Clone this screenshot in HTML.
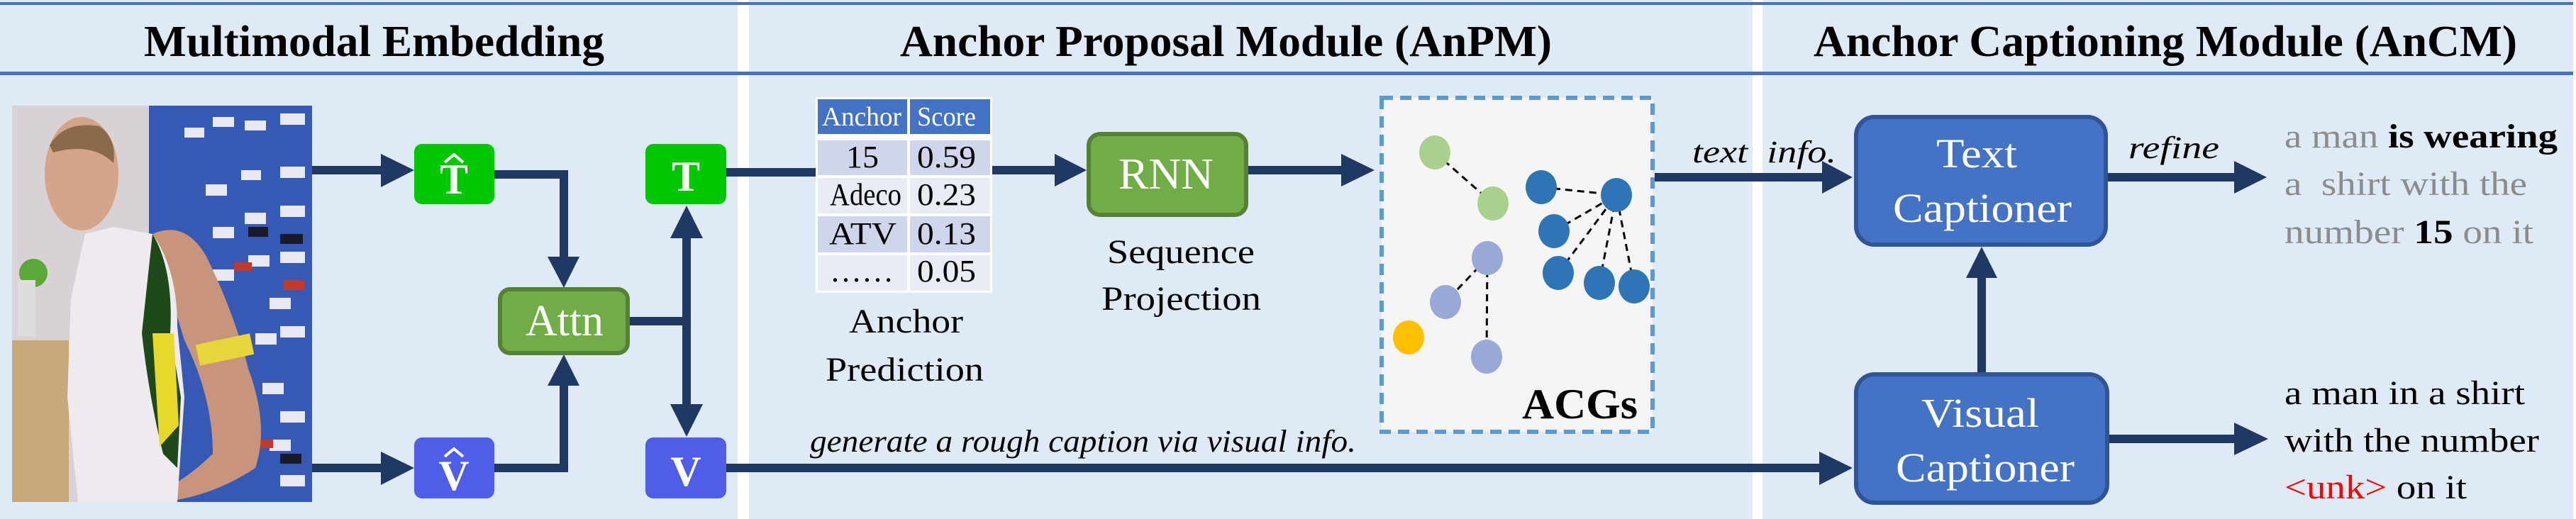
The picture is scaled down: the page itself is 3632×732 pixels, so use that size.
<!DOCTYPE html>
<html><head><meta charset="utf-8"><style>
html,body{margin:0;padding:0;background:#fff;}
svg{display:block;font-family:"Liberation Serif","Times New Roman",serif;}
svg text{font-family:"Liberation Serif","Times New Roman",serif;}
</style></head><body>
<svg width="3632" height="732" viewBox="0 0 3632 732" xmlns="http://www.w3.org/2000/svg" font-family="Liberation Serif, Times New Roman, serif">
<!-- panels -->
<rect x="0" y="0" width="1040" height="732" fill="#deebf7"/>
<rect x="1056" y="0" width="1415" height="732" fill="#deebf7"/>
<rect x="2485" y="0" width="1143" height="732" fill="#deebf7"/>
<rect x="0" y="3" width="3628" height="4" fill="#4472c4"/>
<rect x="0" y="101" width="3628" height="5" fill="#4472c4"/>

<!-- titles -->
<text x="203" y="79" font-family="Liberation Serif, serif" font-size="62" font-weight="bold" textLength="649" lengthAdjust="spacingAndGlyphs">Multimodal Embedding</text>
<text x="1269" y="79" font-family="Liberation Serif, serif" font-size="62" font-weight="bold" textLength="919" lengthAdjust="spacingAndGlyphs">Anchor Proposal Module (AnPM)</text>
<text x="2557" y="79" font-family="Liberation Serif, serif" font-size="62" font-weight="bold" textLength="992" lengthAdjust="spacingAndGlyphs">Anchor Captioning Module (AnCM)</text>

<!-- photo -->
<g>
<rect x="17" y="149" width="423" height="559" fill="#c9c4c8"/>
<rect x="17" y="149" width="200" height="559" fill="#d8d2d6"/>
<rect x="17" y="480" width="80" height="228" fill="#c8a878"/>
<rect x="210" y="149" width="230" height="559" fill="#3559b5"/>
<g fill="#e8e8f0">
<rect x="260" y="180" width="28" height="14"/><rect x="300" y="165" width="30" height="14"/><rect x="345" y="170" width="30" height="14"/><rect x="395" y="160" width="35" height="16"/>
<rect x="290" y="260" width="30" height="16"/><rect x="340" y="240" width="28" height="14"/><rect x="395" y="235" width="35" height="16"/>
<rect x="300" y="320" width="30" height="16"/><rect x="345" y="300" width="30" height="16"/><rect x="395" y="290" width="35" height="16"/>
<rect x="300" y="380" width="30" height="16"/><rect x="350" y="360" width="30" height="16"/><rect x="395" y="355" width="35" height="16"/>
<rect x="380" y="420" width="30" height="16"/><rect x="395" y="460" width="35" height="16"/><rect x="360" y="470" width="30" height="16"/>
<rect x="370" y="540" width="30" height="16"/><rect x="395" y="580" width="35" height="16"/><rect x="380" y="620" width="30" height="16"/><rect x="395" y="670" width="35" height="16"/>
</g>
<g fill="#c0392b"><rect x="330" y="370" width="25" height="12"/><rect x="400" y="395" width="30" height="14"/><rect x="360" y="620" width="25" height="12"/></g>
<g fill="#1a1a2a"><rect x="350" y="320" width="28" height="14"/><rect x="395" y="330" width="32" height="14"/><rect x="395" y="640" width="30" height="14"/></g>
<path d="M215,330 Q260,310 290,360 Q330,440 350,520 Q380,600 360,660 Q300,700 230,708 L200,708 Q260,680 300,640 Q300,560 260,480 Z" fill="#c9957a"/>
<rect x="278" y="478" width="78" height="30" fill="#e8d53a" transform="rotate(-12 317 493)"/>
<path d="M120,330 L160,320 L215,330 Q250,380 250,460 L260,560 L250,708 L110,708 L95,560 L100,420 Z" fill="#eeeaf0"/>
<path d="M215,330 Q245,380 240,470 L255,560 L250,660 L230,640 Q210,560 200,470 Z" fill="#1e4a1a"/>
<path d="M215,470 L245,470 L252,600 L225,630 Z" fill="#e8d82a"/>
<ellipse cx="115" cy="245" rx="52" ry="80" fill="#d4a588"/>
<path d="M70,205 Q90,170 140,178 Q165,195 160,230 Q130,200 75,215 Z" fill="#8a6a4a"/>
<circle cx="47" cy="385" r="20" fill="#5aa83a"/>
<rect x="25" y="395" width="25" height="80" fill="#ddd"/>
</g>

<!-- connectors -->
<g stroke="#1f3864" stroke-width="12" fill="none">
<line x1="440" y1="240" x2="540" y2="240"/>
<line x1="440" y1="660" x2="540" y2="660"/>
<polyline points="697,246 795,246 795,365"/>
<polyline points="697,660 795,660 795,542"/>
<line x1="887" y1="453" x2="968" y2="453"/>
<line x1="968" y1="334" x2="968" y2="572"/>
<line x1="1024" y1="243" x2="1153" y2="243"/>
<line x1="1396" y1="240" x2="1490" y2="240"/>
<line x1="1760" y1="240" x2="1893" y2="240"/>
<line x1="2333" y1="250" x2="2572" y2="250"/>
<line x1="1024" y1="660" x2="2568" y2="660"/>
<line x1="2794" y1="525" x2="2794" y2="390"/>
<line x1="2972" y1="250" x2="3152" y2="250"/>
<line x1="2972" y1="619" x2="3152" y2="619"/>
</g>
<g fill="#1f3864">
<polygon points="537,217 584,240 537,264"/>
<polygon points="537,637 584,660 537,684"/>
<polygon points="772,362 817,362 795,406"/>
<polygon points="772,544 817,544 795,500"/>
<polygon points="945,336 991,336 968,290"/>
<polygon points="945,570 991,570 968,616"/>
<polygon points="1487,217 1532,240 1487,263"/>
<polygon points="1891,217 1938,240 1891,263"/>
<polygon points="2569,227 2612,250 2569,273"/>
<polygon points="2565,637 2612,660 2565,684"/>
<polygon points="2772,392 2816,392 2794,348"/>
<polygon points="3150,227 3196,250 3150,273"/>
<polygon points="3150,596 3198,619 3150,642"/>
</g>

<!-- boxes left -->
<rect x="584" y="203" width="113" height="85" rx="11" fill="#00c800"/>
<rect x="584" y="617" width="113" height="86" rx="11" fill="#4e5ee8"/>
<rect x="910" y="203" width="114" height="85" rx="11" fill="#00c800"/>
<rect x="910" y="617" width="114" height="86" rx="11" fill="#4e5ee8"/>
<g fill="#fff" font-family="Liberation Serif, serif" font-size="60" text-anchor="middle">
<text x="640" y="273" font-weight="bold">T</text>
<path d="M627,229 L640,218 L653,229" stroke="#fff" stroke-width="4" fill="none"/>
<text x="640" y="691" font-weight="bold">V</text>
<path d="M627,644 L640,633 L653,644" stroke="#fff" stroke-width="4" fill="none"/>
<text x="967" y="269" font-weight="bold">T</text>
<text x="967" y="685" font-weight="bold">V</text>
</g>
<rect x="705" y="408" width="180" height="90" rx="14" fill="#70ad47" stroke="#548235" stroke-width="6"/>
<text x="741" y="473" font-family="Liberation Serif, serif" font-size="62" fill="#fff" textLength="110" lengthAdjust="spacingAndGlyphs">Attn</text>

<!-- table -->
<rect x="1150" y="137" width="249" height="276" fill="#fff"/>
<rect x="1153" y="140" width="126" height="49" fill="#4472c4"/>
<rect x="1283" y="140" width="113" height="49" fill="#4472c4"/>
<rect x="1153" y="198" width="126" height="49" fill="#cfd5ea"/><rect x="1283" y="198" width="113" height="49" fill="#cfd5ea"/>
<rect x="1153" y="251" width="126" height="50" fill="#e9ebf5"/><rect x="1283" y="251" width="113" height="50" fill="#e9ebf5"/>
<rect x="1153" y="305" width="126" height="51" fill="#cfd5ea"/><rect x="1283" y="305" width="113" height="51" fill="#cfd5ea"/>
<rect x="1153" y="360" width="126" height="50" fill="#e9ebf5"/><rect x="1283" y="360" width="113" height="50" fill="#e9ebf5"/>
<g font-family="Liberation Serif, serif" font-size="38" fill="#fff"><text x="1159" y="177" textLength="112" lengthAdjust="spacingAndGlyphs">Anchor</text><text x="1293" y="177" textLength="83" lengthAdjust="spacingAndGlyphs">Score</text></g>
<g font-family="Liberation Serif, serif" font-size="44" fill="#000">
<text x="1193" y="236" textLength="46" lengthAdjust="spacingAndGlyphs">15</text><text x="1293" y="236" textLength="83" lengthAdjust="spacingAndGlyphs">0.59</text>
<text x="1170" y="289" textLength="101" lengthAdjust="spacingAndGlyphs">Adeco</text><text x="1293" y="289" textLength="83" lengthAdjust="spacingAndGlyphs">0.23</text>
<text x="1169" y="344" textLength="95" lengthAdjust="spacingAndGlyphs">ATV</text><text x="1293" y="344" textLength="83" lengthAdjust="spacingAndGlyphs">0.13</text>
<text x="1170" y="397" textLength="90" lengthAdjust="spacingAndGlyphs">……</text><text x="1293" y="397" textLength="83" lengthAdjust="spacingAndGlyphs">0.05</text>
</g>
<g font-family="Liberation Serif, serif" font-size="48" fill="#000">
<text x="1197" y="469" textLength="161" lengthAdjust="spacingAndGlyphs">Anchor</text>
<text x="1164" y="537" textLength="223" lengthAdjust="spacingAndGlyphs">Prediction</text>
<text x="1561" y="371" textLength="208" lengthAdjust="spacingAndGlyphs">Sequence</text>
<text x="1553" y="437" textLength="225" lengthAdjust="spacingAndGlyphs">Projection</text>
</g>

<!-- RNN -->
<rect x="1535" y="189" width="222" height="114" rx="16" fill="#70ad47" stroke="#548235" stroke-width="6"/>
<text x="1577" y="266" font-family="Liberation Serif, serif" font-size="62" fill="#fff" textLength="134" lengthAdjust="spacingAndGlyphs">RNN</text>

<!-- ACG -->
<rect x="1948" y="138" width="382" height="471" fill="#f5f5f5" stroke="#5b9bd5" stroke-width="6" stroke-dasharray="16,10"/>
<g stroke="#000" stroke-width="3" stroke-dasharray="10,7">
<line x1="2023" y1="215" x2="2105" y2="287"/>
<line x1="2173" y1="264" x2="2279" y2="275"/>
<line x1="2191" y1="326" x2="2279" y2="275"/>
<line x1="2197" y1="385" x2="2279" y2="275"/>
<line x1="2255" y1="399" x2="2279" y2="275"/>
<line x1="2304" y1="404" x2="2279" y2="275"/>
<line x1="2097" y1="364" x2="2038" y2="426"/>
<line x1="2097" y1="364" x2="2096" y2="503"/>
</g>
<g>
<ellipse cx="2023" cy="215" rx="22" ry="24" fill="#a9d18e"/>
<ellipse cx="2105" cy="287" rx="22" ry="24" fill="#a9d18e"/>
<ellipse cx="2173" cy="264" rx="22" ry="24" fill="#2e75b6"/>
<ellipse cx="2279" cy="275" rx="22" ry="24" fill="#2e75b6"/>
<ellipse cx="2191" cy="326" rx="22" ry="24" fill="#2e75b6"/>
<ellipse cx="2197" cy="385" rx="22" ry="24" fill="#2e75b6"/>
<ellipse cx="2255" cy="399" rx="22" ry="24" fill="#2e75b6"/>
<ellipse cx="2304" cy="404" rx="22" ry="24" fill="#2e75b6"/>
<ellipse cx="2097" cy="364" rx="22" ry="24" fill="#97a8d9"/>
<ellipse cx="2038" cy="426" rx="22" ry="24" fill="#97a8d9"/>
<ellipse cx="2096" cy="503" rx="22" ry="24" fill="#97a8d9"/>
<ellipse cx="1986" cy="476" rx="22" ry="24" fill="#ffc000"/>
</g>
<text x="2146" y="590" font-family="Liberation Serif, serif" font-size="60" font-weight="bold" textLength="163" lengthAdjust="spacingAndGlyphs">ACGs</text>

<g font-family="Liberation Serif, serif" font-style="italic" font-size="44" fill="#000">
<text x="1142" y="637" textLength="770" lengthAdjust="spacingAndGlyphs">generate a rough caption via visual info.</text>
<text x="2386" y="229" textLength="203" lengthAdjust="spacingAndGlyphs" xml:space="preserve">text  info.</text>
<text x="3001" y="223" textLength="128" lengthAdjust="spacingAndGlyphs">refine</text>
</g>

<!-- captioners -->
<rect x="2617" y="165" width="352" height="180" rx="26" fill="#4472c4" stroke="#2f5597" stroke-width="6"/>
<rect x="2617" y="528" width="354" height="181" rx="26" fill="#4472c4" stroke="#2f5597" stroke-width="6"/>
<g font-family="Liberation Serif, serif" font-size="58" fill="#fff">
<text x="2730" y="236" textLength="114" lengthAdjust="spacingAndGlyphs">Text</text>
<text x="2669" y="313" textLength="252" lengthAdjust="spacingAndGlyphs">Captioner</text>
<text x="2709" y="602" textLength="166" lengthAdjust="spacingAndGlyphs">Visual</text>
<text x="2673" y="679" textLength="252" lengthAdjust="spacingAndGlyphs">Captioner</text>
</g>

<!-- outputs -->
<g font-family="Liberation Serif, serif" font-size="48" fill="#8c8c8c">
<text x="3221" y="208" textLength="385" lengthAdjust="spacingAndGlyphs" xml:space="preserve">a man <tspan fill="#000" font-weight="bold">is wearing</tspan></text>
<text x="3221" y="275" textLength="342" lengthAdjust="spacingAndGlyphs" xml:space="preserve">a  shirt with the</text>
<text x="3221" y="343" textLength="351" lengthAdjust="spacingAndGlyphs" xml:space="preserve">number <tspan fill="#000" font-weight="bold">15</tspan> on it</text>
</g>
<g font-family="Liberation Serif, serif" font-size="48" fill="#000">
<text x="3221" y="570" textLength="339" lengthAdjust="spacingAndGlyphs">a man in a shirt</text>
<text x="3221" y="637" textLength="359" lengthAdjust="spacingAndGlyphs">with the number</text>
<text x="3221" y="703" textLength="257" lengthAdjust="spacingAndGlyphs" xml:space="preserve"><tspan fill="#ff0000">&lt;unk&gt;</tspan> on it</text>
</g>
</svg>
</body></html>
